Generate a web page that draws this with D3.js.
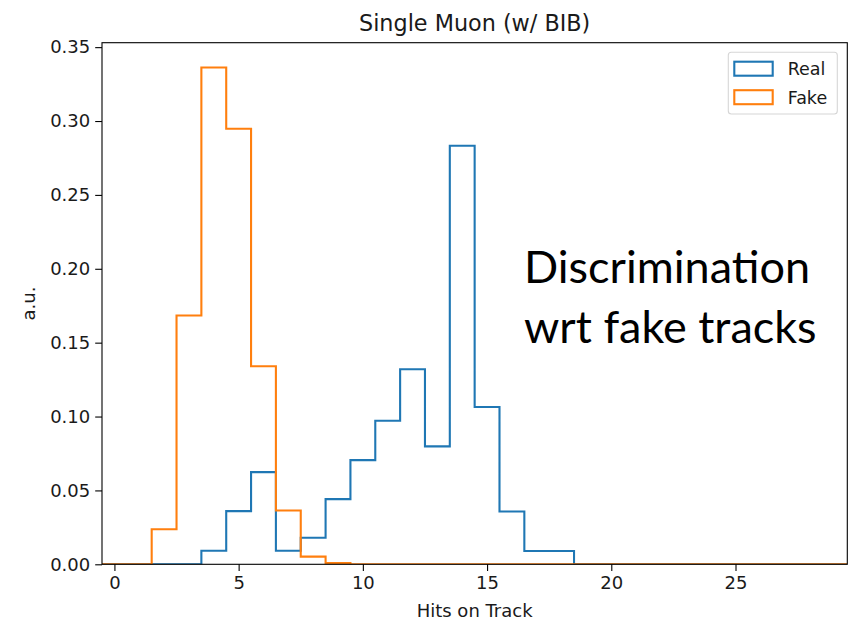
<!DOCTYPE html>
<html>
<head>
<meta charset="utf-8">
<script src="https://cdn.jsdelivr.net/npm/d3@7"></script>
<style>
  html, body { margin: 0; padding: 0; background: #fff; }
  svg { display: block; }
</style>
</head>
<body>
<svg id="chart" width="849" height="621"></svg>
<script>
// ---- Data (bin centres = hits on track, density-normalised) ----
const hits = [0,1,2,3,4,5,6,7,8,9,10,11,12,13,14,15,16,17,18,19,20,21,22,23,24,25,26,27,28,29];
const realValues = [0,0,0,0,0.0092,0.036,0.0624,0.0092,0.018,0.0441,0.0705,0.0972,0.132,0.0798,0.2833,0.1065,0.0357,0.009,0.009,0,0,0,0,0,0,0,0,0,0,0];
const fakeValues = [0,0,0.0237,0.1684,0.3362,0.2948,0.134,0.0364,0.0052,0.0008,0,0,0,0,0,0,0,0,0,0,0,0,0,0,0,0,0,0,0,0];
const seriesNames = ["Real", "Fake"];
const seriesColors = ["#1f77b4", "#ff7f0e"];
const xTicks = [0, 5, 10, 15, 20, 25];
const yTicks = [0, 0.05, 0.10, 0.15, 0.20, 0.25, 0.30, 0.35];
const titleText = "Single Muon (w/ BIB)";
const xLabel = "Hits on Track";
const yLabel = "a.u.";
const noteLines = ["Discrimination", "wrt fake tracks"];

// ---- Layout ----
const plot = { left: 102, right: 847.3, top: 42.7, bottom: 564.3 };
const svg = d3.select("#chart");
const mainFont = "'DejaVu Sans', sans-serif";
const textColor = "#1a1a1a";

const binW = 1;
const x = d3.scaleLinear()
  .domain([hits[0] - binW / 2, hits[hits.length - 1] + binW / 2])
  .range([plot.left, plot.right]);
const yMax = d3.max([d3.max(realValues), d3.max(fakeValues)]) * 1.05;
const y = d3.scaleLinear().domain([0, yMax]).range([plot.bottom, plot.top]);

// ---- Histogram step lines ----
function stepPoints(vals) {
  const pts = [[hits[0] - binW / 2, 0]];
  vals.forEach((v, i) => {
    pts.push([hits[i] - binW / 2, v]);
    pts.push([hits[i] + binW / 2, v]);
  });
  pts.push([hits[hits.length - 1] + binW / 2, 0]);
  return pts;
}
const line = d3.line().x(d => x(d[0])).y(d => y(d[1]));

svg.append("defs").append("clipPath").attr("id", "clip")
  .append("rect").attr("x", plot.left).attr("y", plot.top - 2)
  .attr("width", plot.right - plot.left).attr("height", plot.bottom - plot.top + 2);

const g = svg.append("g").attr("clip-path", "url(#clip)");
[realValues, fakeValues].forEach((vals, k) => {
  g.append("path")
    .attr("d", line(stepPoints(vals)))
    .attr("fill", "none")
    .attr("stroke", seriesColors[k])
    .attr("stroke-width", 2.1)
    .attr("stroke-linejoin", "miter");
});

// ---- Axes ----
const tickLen = 6.8;
const xAxis = d3.axisBottom(x).tickValues(xTicks).tickFormat(d3.format("d"))
  .tickSizeInner(tickLen).tickSizeOuter(0).tickPadding(5);
const yAxis = d3.axisLeft(y).tickValues(yTicks).tickFormat(d3.format(".2f"))
  .tickSizeInner(tickLen).tickSizeOuter(0).tickPadding(5);

const gx = svg.append("g").attr("transform", `translate(0,${plot.bottom})`).call(xAxis);
const gy = svg.append("g").attr("transform", `translate(${plot.left},0)`).call(yAxis);
[gx, gy].forEach(a => {
  a.select(".domain").remove();
  a.selectAll(".tick line").attr("stroke", "#000").attr("stroke-width", 1.1);
  a.selectAll(".tick text").style("font-family", mainFont).style("font-size", "18px").style("fill", textColor);
});
gx.selectAll(".tick text").attr("dy", "0.72em");

// frame (spines)
svg.append("rect")
  .attr("x", plot.left).attr("y", plot.top)
  .attr("width", plot.right - plot.left).attr("height", plot.bottom - plot.top)
  .attr("fill", "none").attr("stroke", "#000").attr("stroke-width", 1.1);

// ---- Title & labels ----
function label(sel) {
  return sel.style("font-family", mainFont).style("fill", textColor);
}
label(svg.append("text")).attr("x", (plot.left + plot.right) / 2).attr("y", 30.7)
  .attr("text-anchor", "middle").style("font-size", "22.3px").text(titleText);
label(svg.append("text")).attr("x", (plot.left + plot.right) / 2).attr("y", 616.5)
  .attr("text-anchor", "middle").style("font-size", "18px").text(xLabel);
label(svg.append("text"))
  .attr("transform", `translate(35,${(plot.top + plot.bottom) / 2}) rotate(-90)`)
  .attr("text-anchor", "middle").style("font-size", "18px").text(yLabel);

// ---- Legend ----
const lg = svg.append("g");
lg.append("rect").attr("x", 728.3).attr("y", 52.3).attr("width", 109).attr("height", 61.7)
  .attr("rx", 3).attr("fill", "#fff").attr("fill-opacity", 0.8)
  .attr("stroke", "#d6d6d6").attr("stroke-width", 1.1);
seriesNames.forEach((name, i) => {
  const cy = 68.7 + i * 28.5;
  lg.append("rect").attr("x", 734.3).attr("y", cy - 7).attr("width", 38.4).attr("height", 14)
    .attr("fill", "none").attr("stroke", seriesColors[i]).attr("stroke-width", 2.1);
  label(lg.append("text")).attr("x", 787.7).attr("y", cy).attr("dy", "0.36em")
    .style("font-size", "17.5px").text(name);
});

// ---- Annotation ----
noteLines.forEach((t, i) => {
  svg.append("text").attr("x", 524).attr("y", 283.3 + i * 60)
    .style("font-family", "Lato, 'Open Sans', sans-serif").style("font-size", "45px")
    .style("fill", "#000")
    .text(t);
});
</script>
</body>
</html>
